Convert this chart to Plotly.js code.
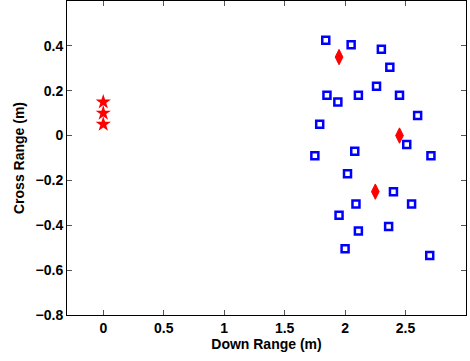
<!DOCTYPE html>
<html>
<head>
<meta charset="utf-8">
<script src="https://cdn.plot.ly/plotly-3.0.1.min.js"></script>
<style>html,body{margin:0;padding:0;background:#fff;}#chart{width:470px;height:361px;}</style>
</head>
<body>
<div id="chart"></div>
<script>
// Stars (red, filled)
var starX = [0, 0, 0];
var starY = [0.05, 0.10, 0.15];
// Diamonds (red, filled)
var diamondX = [1.95, 2.45, 2.25];
var diamondY = [0.35, 0.00, -0.25];
// Squares (blue, open)
var squareX = [1.84, 2.05, 2.30, 2.37, 2.26, 1.85, 1.94, 2.11, 2.45, 2.60, 1.79, 2.51,
               1.75, 2.08, 2.71, 2.02, 2.40, 2.09, 2.55, 1.95, 2.11, 2.36, 2.00, 2.70];
var squareY = [0.425, 0.405, 0.385, 0.305, 0.22, 0.18, 0.15, 0.18, 0.18, 0.09, 0.05, -0.04,
               -0.09, -0.07, -0.09, -0.17, -0.25, -0.305, -0.305, -0.355, -0.425, -0.405, -0.505, -0.535];
var xTicks = [0, 0.5, 1, 1.5, 2, 2.5, 3];
var yTicks = [-0.8, -0.6, -0.4, -0.2, 0, 0.2, 0.4];

var font = {family: 'Liberation Sans, Arial, sans-serif', size: 14, color: '#000', weight: 'bold'};

var traces = [
  {x: squareX, y: squareY, mode: 'markers', type: 'scatter',
   marker: {symbol: 'square-open', size: 7, color: '#0000ff', line: {width: 2.5, color: '#0000ff'}}},
  {x: diamondX, y: diamondY, mode: 'markers', type: 'scatter',
   marker: {symbol: 'diamond-tall', size: 11, color: '#ff0000', line: {width: 1, color: '#ff0000'}}},
  {x: starX, y: starY, mode: 'markers', type: 'scatter',
   marker: {symbol: 'star', size: 11.5, color: '#ff0000', line: {width: 0}}}
];

var layout = {
  width: 470, height: 361,
  margin: {l: 67, r: 4, t: 1, b: 46},
  showlegend: false,
  paper_bgcolor: '#fff', plot_bgcolor: '#fff',
  font: font,
  xaxis: {
    range: [-0.3, 3], tickvals: xTicks, ticktext: xTicks.map(String),
    showgrid: false, zeroline: false, showline: true, linecolor: '#000', linewidth: 1,
    mirror: 'ticks', ticks: 'inside', ticklen: 5, tickcolor: '#555', tickwidth: 1,
    tickfont: font,
    title: {text: 'Down Range (m)', font: font, standoff: 2}
  },
  yaxis: {
    range: [-0.8, 0.6], tickvals: yTicks,
    showgrid: false, zeroline: false, showline: true, linecolor: '#000', linewidth: 1,
    mirror: 'ticks', ticks: 'inside', ticklen: 5, tickcolor: '#555', tickwidth: 1,
    tickfont: font,
    title: {text: 'Cross Range (m)', font: font, standoff: 7}
  }
};

Plotly.newPlot('chart', traces, layout, {displayModeBar: false, staticPlot: true});
</script>
</body>
</html>
